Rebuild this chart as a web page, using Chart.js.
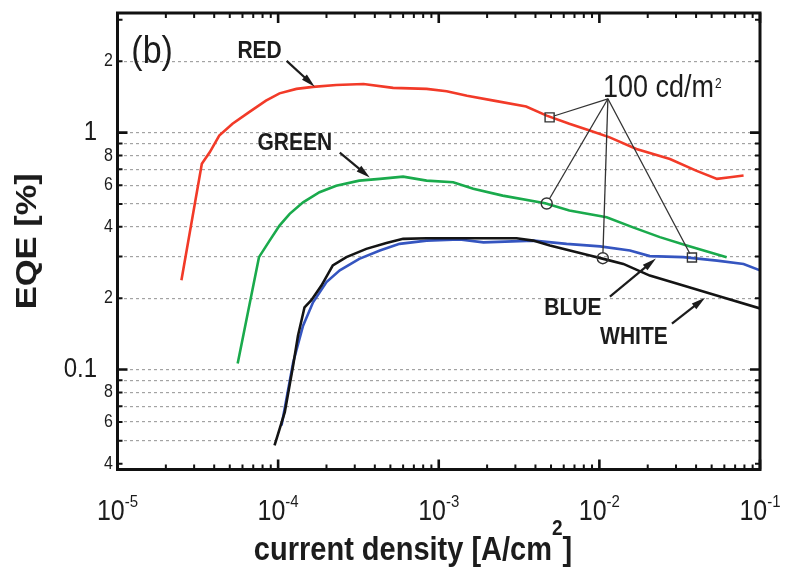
<!DOCTYPE html>
<html lang="en">
<head>
<meta charset="UTF-8">
<title>EQE vs current density</title>
<script src="https://cdn.jsdelivr.net/npm/chart.js"></script>
<style>
  html, body { margin: 0; padding: 0; background: #fff; }
  #wrap { width: 787px; height: 572px; }
</style>
</head>
<body>
<div id="wrap"><canvas id="eqeChart"></canvas></div>
<script>
// current density [A/cm2] / EQE [%] for each device
const redJ = [2.5e-5, 3.35e-5, 3.75e-5, 4.3e-5, 5.2e-5, 6.6e-5, 8.4e-5, 1.02e-4, 1.3e-4, 1.65e-4, 2.3e-4, 3.4e-4, 5.2e-4, 8.4e-4, 1.12e-3, 1.5e-3, 2.2e-3, 3.5e-3, 4.7e-3, 6.5e-3, 8.7e-3, 1.16e-2, 1.7e-2, 2.75e-2, 4.0e-2, 5.4e-2, 6.5e-2, 7.9e-2];
const redEQE = [0.238, 0.738, 0.826, 0.971, 1.09, 1.22, 1.365, 1.465, 1.53, 1.56, 1.59, 1.605, 1.545, 1.53, 1.495, 1.43, 1.365, 1.29, 1.18, 1.09, 1.02, 0.955, 0.853, 0.774, 0.691, 0.638, 0.648, 0.659];

const greenJ = [5.6e-5, 7.6e-5, 8.85e-5, 1.02e-4, 1.18e-4, 1.43e-4, 1.81e-4, 2.3e-4, 3.2e-4, 4.3e-4, 6.0e-4, 8.4e-4, 1.23e-3, 1.64e-3, 2.5e-3, 4.6e-3, 6.5e-3, 1.11e-2, 1.62e-2, 2.38e-2, 3.5e-2, 6.2e-2];
const greenEQE = [0.106, 0.298, 0.350, 0.405, 0.454, 0.508, 0.560, 0.597, 0.627, 0.638, 0.652, 0.627, 0.617, 0.579, 0.542, 0.503, 0.469, 0.439, 0.398, 0.362, 0.334, 0.298];

const blueJ = [1.05e-4, 1.24e-4, 1.43e-4, 1.65e-4, 2.0e-4, 2.42e-4, 3.2e-4, 4.3e-4, 5.7e-4, 8.4e-4, 1.35e-3, 1.9e-3, 3.9e-3, 6.25e-3, 1.01e-2, 1.55e-2, 2.06e-2, 3.33e-2, 5.4e-2, 7.9e-2, 1.0e-1];
const blueEQE = [0.058, 0.107, 0.153, 0.192, 0.234, 0.262, 0.293, 0.318, 0.339, 0.350, 0.354, 0.344, 0.350, 0.339, 0.331, 0.318, 0.301, 0.298, 0.288, 0.279, 0.262];

const whiteJ = [9.5e-5, 1.1e-4, 1.24e-4, 1.33e-4, 1.46e-4, 1.61e-4, 1.86e-4, 2.19e-4, 2.66e-4, 3.54e-4, 4.72e-4, 6.0e-4, 8.4e-4, 1.35e-3, 3.05e-3, 3.87e-3, 4.92e-3, 6.55e-3, 8.73e-3, 1.06e-2, 1.41e-2, 2.06e-2, 3.33e-2, 5.37e-2, 1.0e-1];
const whiteEQE = [0.0478, 0.066, 0.104, 0.139, 0.183, 0.196, 0.226, 0.275, 0.298, 0.323, 0.342, 0.356, 0.358, 0.358, 0.358, 0.350, 0.334, 0.318, 0.303, 0.293, 0.279, 0.249, 0.226, 0.205, 0.181];

// 100 cd/m2 operating points: red, green, white, blue
const markJ = [4.9e-3, 4.7e-3, 1.05e-2, 3.77e-2];
const markEQE = [1.16, 0.502, 0.295, 0.297];
const markStyle = ['rect', 'circle', 'circle', 'rect'];

// axes
const xDecades = [1e-5, 1e-4, 1e-3, 1e-2, 1e-1];
const xExponents = ['-5', '-4', '-3', '-2', '-1'];
const xMinorSteps = [2, 3, 4, 5, 6, 7, 8, 9];
const yTicks = [0.04, 0.05, 0.06, 0.07, 0.08, 0.09, 0.1, 0.2, 0.3, 0.4, 0.5, 0.6, 0.7, 0.8, 0.9, 1, 2, 3];
const yMajor = [0.1, 1];
const yLabelValues = [2, 1, 0.8, 0.6, 0.4, 0.2, 0.1, 0.08, 0.06, 0.04];
const yLabelTexts = ['2', '1', '8', '6', '4', '2', '0.1', '8', '6', '4'];

// labels and arrows, placed in data coordinates
const notes = [
  { text: '(b)', x: 1.22e-5, y: 2.18, size: 34, weight: 'normal', align: 'left' },
  { text: 'RED', x: 7.67e-5, y: 2.2, size: 21, weight: 'bold', align: 'center' },
  { text: 'GREEN', x: 1.27e-4, y: 0.9, size: 21, weight: 'bold', align: 'center' },
  { text: 'BLUE', x: 6.84e-3, y: 0.181, size: 21, weight: 'bold', align: 'center' },
  { text: 'WHITE', x: 1.64e-2, y: 0.1365, size: 21, weight: 'bold', align: 'center' }
];
const arrows = [
  { from: [1.13e-4, 2.01], to: [1.69e-4, 1.564] },
  { from: [2.42e-4, 0.823], to: [3.72e-4, 0.646] },
  { from: [1.163e-2, 0.203], to: [2.25e-2, 0.294] },
  { from: [2.83e-2, 0.156], to: [4.55e-2, 0.201] }
];
const calloutApex = [1.13e-2, 1.39];
const calloutText = [1.052e-2, 1.419];

const FONT = '"Liberation Sans", Arial, Helvetica, sans-serif';
const SY = 1.15; // lettering in this figure is a little taller than wide
const INK = '#1c1c1c';

function drawText(ctx, str, x, y, size, opts = {}) {
  ctx.save();
  ctx.font = (opts.weight || 'normal') + ' ' + size + 'px ' + FONT;
  ctx.textAlign = opts.align || 'left';
  ctx.textBaseline = opts.baseline || 'alphabetic';
  ctx.fillStyle = opts.color || INK;
  ctx.translate(x, y);
  if (opts.rotate) {
    ctx.rotate(opts.rotate);
    ctx.scale(SY, 1);
  } else {
    ctx.scale(1, SY);
  }
  ctx.fillText(str, 0, 0);
  ctx.restore();
}

function textWidth(ctx, str, size, weight) {
  ctx.save();
  ctx.font = (weight || 'normal') + ' ' + size + 'px ' + FONT;
  const w = ctx.measureText(str).width;
  ctx.restore();
  return w;
}

function drawArrow(ctx, x1, y1, x2, y2) {
  const ang = Math.atan2(y2 - y1, x2 - x1);
  const head = 14, half = 3.6;
  ctx.save();
  ctx.strokeStyle = INK;
  ctx.fillStyle = INK;
  ctx.lineWidth = 2.2;
  ctx.beginPath();
  ctx.moveTo(x1, y1);
  ctx.lineTo(x2 - Math.cos(ang) * head * 0.6, y2 - Math.sin(ang) * head * 0.6);
  ctx.stroke();
  ctx.beginPath();
  ctx.moveTo(x2, y2);
  ctx.lineTo(x2 - Math.cos(ang) * head - Math.sin(ang) * half, y2 - Math.sin(ang) * head + Math.cos(ang) * half);
  ctx.lineTo(x2 - Math.cos(ang) * head + Math.sin(ang) * half, y2 - Math.sin(ang) * head - Math.cos(ang) * half);
  ctx.closePath();
  ctx.fill();
  ctx.restore();
}

// frame, inward ticks, tick labels, titles and annotations
const figurePlugin = {
  id: 'figure',
  afterDraw(chart) {
    const { ctx, chartArea: a, scales: { x, y } } = chart;

    // inward ticks on all four sides
    ctx.save();
    ctx.strokeStyle = '#111';
    xDecades.forEach((d, i) => {
      const steps = [1].concat(i < xDecades.length - 1 ? xMinorSteps : []);
      steps.forEach(m => {
        const px = x.getPixelForValue(d * m);
        const len = m === 1 ? 10 : 5;
        ctx.lineWidth = m === 1 ? 2.6 : 2;
        ctx.beginPath();
        ctx.moveTo(px, a.bottom); ctx.lineTo(px, a.bottom - len);
        ctx.moveTo(px, a.top); ctx.lineTo(px, a.top + len);
        ctx.stroke();
      });
    });
    yTicks.forEach(v => {
      const py = y.getPixelForValue(v);
      const major = yMajor.includes(v);
      const len = major ? 10 : 5;
      ctx.lineWidth = major ? 2.6 : 2;
      ctx.beginPath();
      ctx.moveTo(a.left, py); ctx.lineTo(a.left + len, py);
      ctx.moveTo(a.right, py); ctx.lineTo(a.right - len, py);
      ctx.stroke();
    });
    // frame
    ctx.lineWidth = 3;
    ctx.strokeRect(a.left, a.top, a.right - a.left, a.bottom - a.top);
    ctx.restore();

    // y tick labels
    yLabelValues.forEach((v, i) => {
      const big = yMajor.includes(v);
      drawText(ctx, yLabelTexts[i], big ? a.left - 20.5 : a.left - 4.5, y.getPixelForValue(v), big ? 24 : 16,
        { align: 'right', baseline: 'middle' });
    });

    // x tick labels as powers of ten
    xDecades.forEach((d, i) => {
      const cx = x.getPixelForValue(d);
      const wb = textWidth(ctx, '10', 25);
      const we = textWidth(ctx, xExponents[i], 15);
      const left = cx - (wb + we) / 2;
      drawText(ctx, '10', left, a.bottom + 50.5, 25);
      drawText(ctx, xExponents[i], left + wb, a.bottom + 37.5, 15);
    });

    // axis titles
    const tMain = 'current density [A/cm';
    const wMain = textWidth(ctx, tMain, 29, 'bold');
    const wSup = textWidth(ctx, '2', 19, 'bold');
    const wEnd = textWidth(ctx, ']', 29, 'bold');
    const tLeft = a.left + 0.46 * (a.right - a.left) - (wMain + wSup + wEnd) / 2;
    const tBase = a.bottom + 90.5;
    drawText(ctx, tMain, tLeft, tBase, 29, { weight: 'bold' });
    drawText(ctx, '2', tLeft + wMain, tBase - 25, 19, { weight: 'bold' });
    drawText(ctx, ']', tLeft + wMain + wSup, tBase, 29, { weight: 'bold' });

    drawText(ctx, 'EQE [%]', a.left - 90, (a.top + a.bottom) / 2, 30,
      { weight: 'bold', align: 'center', baseline: 'middle', rotate: -Math.PI / 2 });

    // curve labels and arrows
    notes.forEach(n => {
      drawText(ctx, n.text, x.getPixelForValue(n.x), y.getPixelForValue(n.y), n.size,
        { weight: n.weight, align: n.align, baseline: 'middle' });
    });
    arrows.forEach(r => {
      drawArrow(ctx, x.getPixelForValue(r.from[0]), y.getPixelForValue(r.from[1]),
        x.getPixelForValue(r.to[0]), y.getPixelForValue(r.to[1]));
    });

    // 100 cd/m2 callout
    const ax = x.getPixelForValue(calloutApex[0]);
    const ay = y.getPixelForValue(calloutApex[1]);
    const marks = chart.getDatasetMeta(0).data;
    ctx.save();
    ctx.strokeStyle = '#333';
    ctx.lineWidth = 1.3;
    marks.forEach((pt, i) => {
      const dx = pt.x - ax, dy = pt.y - ay;
      const dist = Math.hypot(dx, dy);
      const r = markStyle[i] === 'rect' ? 4.5 : 5.5;
      ctx.beginPath();
      ctx.moveTo(ax, ay);
      ctx.lineTo(pt.x - dx / dist * r, pt.y - dy / dist * r);
      ctx.stroke();
    });
    ctx.restore();
    const lx = x.getPixelForValue(calloutText[0]);
    const ly = y.getPixelForValue(calloutText[1]);
    const wc = textWidth(ctx, '100 cd/m', 27);
    drawText(ctx, '100 cd/m', lx, ly, 27);
    drawText(ctx, '2', lx + wc + 1, ly - 9, 12);
  }
};

const pts = (xs, ys) => xs.map((v, i) => ({ x: v, y: ys[i] }));
const line = (label, xs, ys, color, order) => ({
  label, data: pts(xs, ys), showLine: true, borderColor: color, borderWidth: 2.6,
  pointRadius: 0, fill: false, tension: 0, order
});

const ctx = document.getElementById('eqeChart').getContext('2d');
const eqeChart = new Chart(ctx, {
  type: 'scatter',
  data: {
    datasets: [
      {
        label: '100 cd/m2', data: pts(markJ, markEQE), showLine: false,
        pointStyle: markStyle, pointRadius: markStyle.map(s => s === 'rect' ? 6.4 : 5.5),
        borderColor: '#333', borderWidth: 1.4, backgroundColor: 'rgba(255,255,255,0)', order: 0
      },
      line('WHITE', whiteJ, whiteEQE, '#141414', 1),
      line('BLUE', blueJ, blueEQE, '#3555c0', 2),
      line('GREEN', greenJ, greenEQE, '#1aaa4c', 3),
      line('RED', redJ, redEQE, '#f23a28', 4)
    ]
  },
  options: {
    responsive: true,
    maintainAspectRatio: false,
    animation: false,
    layout: { padding: { top: 13, right: 27, left: 0, bottom: 0 } },
    plugins: { legend: { display: false }, tooltip: { enabled: false } },
    scales: {
      x: {
        type: 'logarithmic', min: 1e-5, max: 1e-1,
        afterBuildTicks: s => { s.ticks = xDecades.map(v => ({ value: v })); },
        afterFit: s => { s.height = 102.5; },
        ticks: { display: false },
        grid: { display: false },
        border: { display: false }
      },
      y: {
        type: 'logarithmic', min: 0.0378, max: 3.2,
        afterBuildTicks: s => { s.ticks = yTicks.map(v => ({ value: v })); },
        afterFit: s => { s.width = 117.5; },
        ticks: { display: false },
        grid: {
          drawTicks: false,
          lineWidth: 1.2,
          color: c => (c.tick && c.tick.value >= 0.05 && c.tick.value <= 2) ? '#a3a3a3' : 'rgba(0,0,0,0)'
        },
        border: { display: false, dash: [3, 3] }
      }
    }
  },
  plugins: [figurePlugin]
});
</script>
</body>
</html>
